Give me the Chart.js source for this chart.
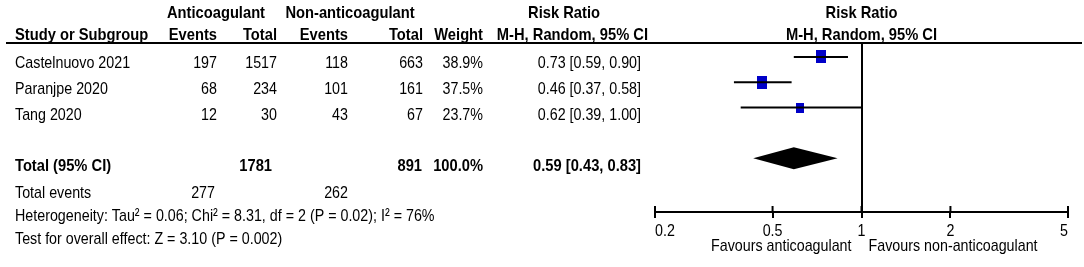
<!DOCTYPE html>
<html><head><meta charset="utf-8">
<script src="https://cdn.jsdelivr.net/npm/chart.js@4.4.1/dist/chart.umd.min.js"></script>
<style>html,body{margin:0;padding:0;background:#fff}#wrap{width:1084px;height:267px;position:relative}</style>
</head><body><div id="wrap"><canvas id="c" width="1084" height="267"></canvas></div>
<script>
const studies = ['Castelnuovo 2021','Paranjpe 2020','Tang 2020'];
const acEvents = [197,68,12];
const acTotal = [1517,234,30];
const nonEvents = [118,101,43];
const nonTotal = [663,161,67];
const weights = [38.9,37.5,23.7];
const rr = [0.73,0.46,0.62];
const rrLow = [0.59,0.37,0.39];
const rrHigh = [0.90,0.58,1.00];
const pooled = [0.59,0.43,0.83];
const totalN = [1781,891];
const totalEvents = [277,262];
const totalWeight = 100.0;
const heterogeneityText = 'Heterogeneity: Tau² = 0.06; Chi² = 8.31, df = 2 (P = 0.02); I² = 76%';
const overallText = 'Test for overall effect: Z = 3.10 (P = 0.002)';
const tickValues = [0.2,0.5,1,2,5];
const tickLabels = ['0.2','0.5','1','2','5'];
const favoursLabels = ['Favours anticoagulant','Favours non-anticoagulant'];

const FAM = '"Liberation Sans",Arial,sans-serif';
const FS = 17;
const SX = 0.84;      // horizontal condensing (regular) to mimic Arial Narrow
const SX_BOLD = 0.865; // horizontal condensing (bold)
const totalRow = 4;
const fmt2 = v => v.toFixed(2);
const ciText = (e,l,h) => fmt2(e)+' ['+fmt2(l)+', '+fmt2(h)+']';

function makeBox(w){
  const c = document.createElement('canvas');
  const side = Math.round(1.6*Math.sqrt(w));
  c.width = side; c.height = Math.round(side*1.3);
  const g = c.getContext('2d');
  g.fillStyle = '#0000C8'; g.fillRect(0,0,c.width,c.height);
  return c;
}

const ciSets = studies.map((s,i)=>({
  type:'line', data:[{x:rrLow[i],y:i},{x:rrHigh[i],y:i}],
  borderColor:'#000', borderWidth:2, pointRadius:0, showLine:true
}));
const boxSet = {
  type:'scatter', data: rr.map((v,i)=>({x:v,y:i})),
  pointStyle: weights.map(makeBox), pointRadius:6, backgroundColor:'#0000C8', borderWidth:0
};

const condense = {
  id:'condense',
  beforeDraw(chart){
    const ctx = chart.ctx;
    if (ctx._origFill) return;
    const orig = ctx.fillText;
    ctx._origFill = orig;
    ctx.fillText = function(t, x, y){
      const sx = /bold/.test(this.font) ? SX_BOLD : SX;
      this.save(); this.translate(x, y); this.scale(sx, 1); orig.call(this, t, 0, 0); this.restore();
    };
  },
  afterDraw(chart){
    const ctx = chart.ctx;
    if (ctx._origFill){ ctx.fillText = ctx._origFill; delete ctx._origFill; }
  }
};

const forest = {
  id:'forest',
  beforeDatasetsDraw(chart){
    const {ctx, scales:{x}, chartArea:a} = chart;
    ctx.save();
    ctx.strokeStyle='#000'; ctx.lineWidth=2;
    const x1 = Math.round(x.getPixelForValue(1));
    ctx.beginPath(); ctx.moveTo(x1, a.top); ctx.lineTo(x1, a.bottom); ctx.stroke();
    tickValues.forEach(v=>{
      const px = x.getPixelForValue(v);
      ctx.beginPath(); ctx.moveTo(px, a.bottom-6); ctx.lineTo(px, a.bottom); ctx.stroke();
    });
    ctx.restore();
  },
  afterDatasetsDraw(chart){
    const {ctx, scales:{x,y}} = chart;
    ctx.save();
    const yc = y.getPixelForValue(totalRow);
    const h = 11;
    ctx.fillStyle='#000';
    ctx.beginPath();
    ctx.moveTo(x.getPixelForValue(pooled[1]), yc);
    ctx.lineTo(x.getPixelForValue(pooled[0]), yc-h);
    ctx.lineTo(x.getPixelForValue(pooled[2]), yc);
    ctx.lineTo(x.getPixelForValue(pooled[0]), yc+h);
    ctx.closePath(); ctx.fill();
    ctx.restore();
  },
  afterDraw(chart){
    const {ctx, scales:{x}, chartArea:a} = chart;
    ctx.save();
    ctx.fillStyle='#000'; ctx.textBaseline='alphabetic';
    const T = (s, px, py, align, bold) => {
      ctx.font = (bold?'bold ':'')+FS+'px '+FAM;
      ctx.textAlign = align; ctx.fillText(s, px, py);
    };
    ctx.strokeStyle='#000'; ctx.lineWidth=2;
    ctx.beginPath(); ctx.moveTo(6, a.top); ctx.lineTo(1082, a.top); ctx.stroke();
    T('Anticoagulant', 216, 18, 'center', true);
    T('Non-anticoagulant', 350, 18, 'center', true);
    T('Risk Ratio', 564, 18, 'center', true);
    T('Risk Ratio', x.getPixelForValue(1), 18, 'center', true);
    T('Study or Subgroup', 15, 40, 'left', true);
    T('Events', 217, 40, 'right', true);
    T('Total', 277, 40, 'right', true);
    T('Events', 348, 40, 'right', true);
    T('Total', 423, 40, 'right', true);
    T('Weight', 483, 40, 'right', true);
    T('M-H, Random, 95% CI', 648, 40, 'right', true);
    T('M-H, Random, 95% CI', x.getPixelForValue(1), 40, 'center', true);
    const rowsY = [68, 94, 120];
    studies.forEach((s,i)=>{
      const py = rowsY[i];
      T(s, 15, py, 'left');
      T(String(acEvents[i]), 217, py, 'right');
      T(String(acTotal[i]), 277, py, 'right');
      T(String(nonEvents[i]), 348, py, 'right');
      T(String(nonTotal[i]), 423, py, 'right');
      T(weights[i].toFixed(1)+'%', 483, py, 'right');
      T(ciText(rr[i], rrLow[i], rrHigh[i]), 641, py, 'right');
    });
    T('Total (95% CI)', 15, 171, 'left', true);
    T(String(totalN[0]), 272, 171, 'right', true);
    T(String(totalN[1]), 422, 171, 'right', true);
    T(totalWeight.toFixed(1)+'%', 483, 171, 'right', true);
    T(ciText(pooled[0], pooled[1], pooled[2]), 641, 171, 'right', true);
    T('Total events', 15, 198, 'left');
    T(String(totalEvents[0]), 215, 198, 'right');
    T(String(totalEvents[1]), 348, 198, 'right');
    T(heterogeneityText, 15, 221, 'left');
    T(overallText, 15, 244, 'left');
    const x1 = x.getPixelForValue(1);
    T(favoursLabels[0], x1-10, 251, 'right');
    T(favoursLabels[1], x1+7, 251, 'left');
    ctx.restore();
  }
};

new Chart(document.getElementById('c'), {
  type:'scatter',
  data:{datasets:[...ciSets, boxSet]},
  options:{
    responsive:false, animation:false, events:[],
    layout:{padding:{left:655, right:16, top:43, bottom:0}},
    plugins:{legend:{display:false}, tooltip:{enabled:false}},
    scales:{
      x:{type:'logarithmic', min:0.2, max:5, position:'bottom',
        afterBuildTicks: s => { s.ticks = tickValues.map(v=>({value:v})); },
        afterFit: s => { s.height = 55; },
        ticks:{callback:(v,i)=>tickLabels[i], align:'inner', padding:3, autoSkip:false, maxRotation:0,
          font:{family:FAM, size:FS}, color:'#000'},
        grid:{display:true, drawOnChartArea:false, drawTicks:true, tickLength:6, color:'#000', lineWidth:2},
        border:{display:true, color:'#000', width:2}
      },
      y:{type:'linear', reverse:true, min:-0.553, max:6.127, display:false}
    }
  },
  plugins:[forest, condense]
});
</script></body></html>
